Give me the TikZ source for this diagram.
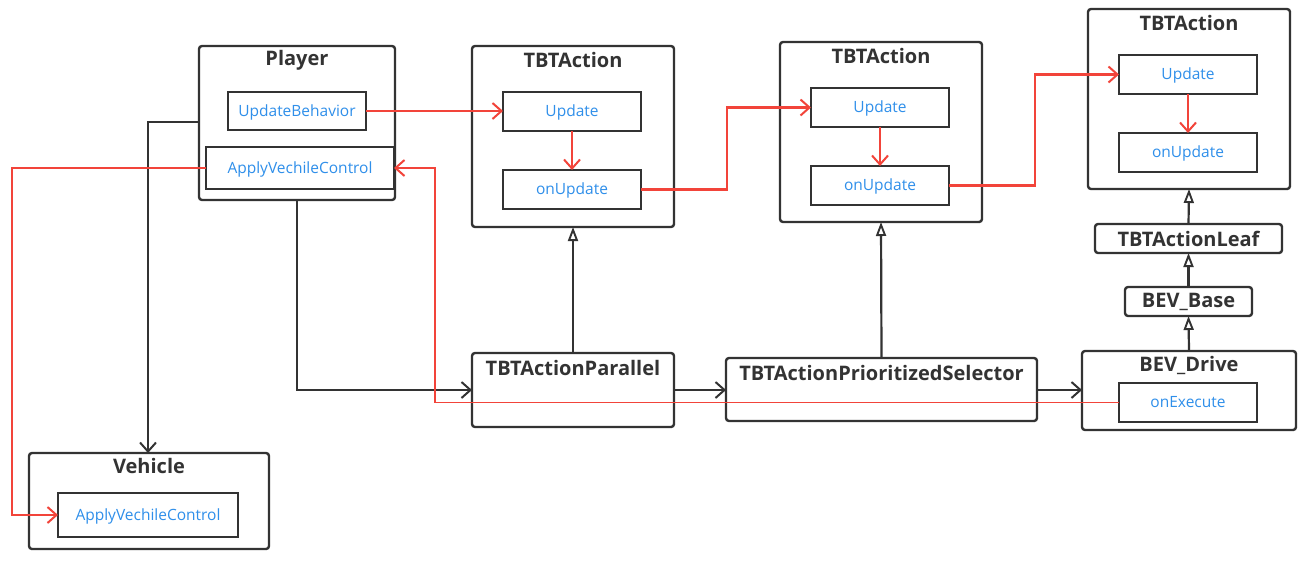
\documentclass[tikz,border=0pt]{standalone}
\usepackage{fontspec}
\setmainfont{Open Sans}
\usetikzlibrary{arrows.meta,calc}
\definecolor{dk}{HTML}{333333}
\definecolor{bl}{HTML}{2F8FEA}
\definecolor{rd}{HTML}{F2443A}
\tikzset{
  outer/.style={draw=dk,line width=2.4pt,rounded corners=3pt,inner sep=0pt,outer sep=0pt,fill=white},
  inner/.style={draw=dk,line width=2.4pt,inner sep=0pt,outer sep=0pt,font=\fontsize{15.5}{17}\selectfont,text=bl,text height=11pt,text depth=1pt},
  ttl/.style={font=\fontsize{20}{22}\selectfont\bfseries,text=dk,inner sep=0pt},
  blk/.style={draw=dk,line width=2.2pt,-{Straight Barb[length=9pt,width=16pt,line width=2pt]}},
  inh/.style={draw=dk,line width=2.2pt,-{Triangle[open,length=14pt,width=10pt,fill=white,line width=1.9pt]}},
  red/.style={draw=rd,line width=2.2pt,-{Straight Barb[length=9pt,width=16pt,line width=2pt]}},
}
\begin{document}
\begin{tikzpicture}[x=1pt,y=-1pt]
\useasboundingbox (0,0) rectangle (1305,563);
% outer boxes
\node[outer,minimum width=196pt,minimum height=154pt] (player) at (297,123) {};
\node[ttl] (playerT) at (297,60) {Player};
\node[outer,minimum width=202pt,minimum height=181pt] (tbt1) at (573,136.5) {};
\node[ttl] (tbt1T) at (573,60) {TBTAction};
\node[outer,minimum width=202pt,minimum height=180pt] (tbt2) at (881,132) {};
\node[ttl] (tbt2T) at (881,56) {TBTAction};
\node[outer,minimum width=202pt,minimum height=180pt] (tbt3) at (1189,99) {};
\node[ttl] (tbt3T) at (1189,23) {TBTAction};
\node[outer,minimum width=187pt,minimum height=29pt,font=\fontsize{20}{22}\selectfont\bfseries,text=dk] (leaf) at (1188.5,238.5) {TBTActionLeaf};
\node[outer,minimum width=127pt,minimum height=29pt,font=\fontsize{20}{22}\selectfont\bfseries,text=dk] (base) at (1188.5,301.5) {BEV\_Base};
\node[outer,minimum width=214pt,minimum height=79pt] (drive) at (1189,390.5) {};
\node[ttl] (driveT) at (1189,365) {BEV\_Drive};
\node[outer,minimum width=202pt,minimum height=74pt] (par) at (573,390) {};
\node[ttl] (parT) at (573,368) {TBTActionParallel};
\node[outer,minimum width=311pt,minimum height=63pt] (sel) at (881.5,389.5) {};
\node[ttl] (selT) at (881.5,373) {TBTActionPrioritizedSelector};
\node[outer,minimum width=240pt,minimum height=96pt] (veh) at (149,501) {};
\node[ttl] (vehT) at (149,466) {Vehicle};
% inner boxes
\node[inner,minimum width=138pt,minimum height=38pt] (ub) at (297,111) {UpdateBehavior};
\node[inner,minimum width=188pt,minimum height=42pt] (apP) at (300,168) {ApplyVechileControl};
\node[inner,minimum width=138pt,minimum height=39pt] (u1) at (572,111.5) {Update};
\node[inner,minimum width=138pt,minimum height=39pt] (on1) at (572,189.5) {onUpdate};
\node[inner,minimum width=138pt,minimum height=39pt] (u2) at (880,107.5) {Update};
\node[inner,minimum width=138pt,minimum height=39pt] (on2) at (880,185.5) {onUpdate};
\node[inner,minimum width=138pt,minimum height=39pt] (u3) at (1188,74.5) {Update};
\node[inner,minimum width=138pt,minimum height=39pt] (on3) at (1188,152.5) {onUpdate};
\node[inner,minimum width=138pt,minimum height=39pt] (onx) at (1188,402.5) {onExecute};
\node[inner,minimum width=180pt,minimum height=44pt] (apV) at (148,515) {ApplyVechileControl};
% routing coordinates
\coordinate (m1) at (727,0);
\coordinate (m2) at (1035,0);
\coordinate (m3) at (435,0);
\coordinate (m4) at (12,0);
\coordinate (m5) at (148,0);
% black connectors
\draw[blk] (player.west |- 0,122) -| (m5 |- veh.north);
\draw[blk] (player.south) |- (par.west);
\draw[blk] (par.east) -- (par.east -| sel.west);
\draw[blk] (sel.east |- par.east) -- (par.east -| drive.west);
\draw[inh] (par.north) -- (tbt1.south);
\draw[inh] (sel.north) -- (tbt2.south);
\draw[inh] (drive.north) -- (base.south);
\draw[inh] (base.north) -- (leaf.south);
\draw[inh] (leaf.north) -- (tbt3.south);
% red connectors
\draw[red] (ub.east) -- (ub.east -| u1.west);
\draw[red] (u1.south) -- (on1.north);
\draw[red] (on1.east) -- (on1.east -| m1) |- (u2.west);
\draw[red] (u2.south) -- (on2.north);
\draw[red] (on2.east) -- (on2.east -| m2) |- (u3.west);
\draw[red] (u3.south) -- (on3.north);
\draw[red,line width=1.7pt] (onx.west) -- (onx.west -| m3) |- (apP.east);
\draw[red,line width=1.7pt] (apP.west) -- (apP.west -| m4) |- (apV.west);
\end{tikzpicture}
\end{document}
